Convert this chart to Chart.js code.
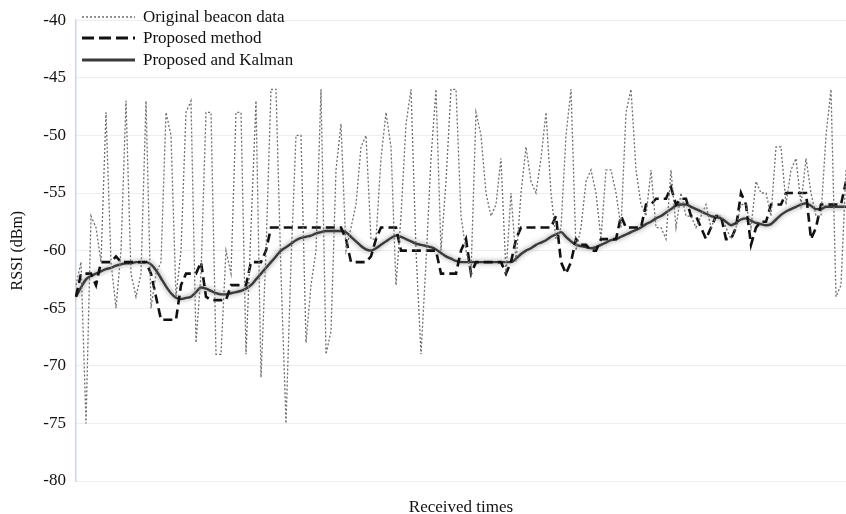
<!DOCTYPE html>
<html>
<head>
<meta charset="utf-8">
<script src="https://cdn.jsdelivr.net/npm/chart.js@4"></script>
<style>
  html, body { margin: 0; padding: 0; background: #fff; }
  #wrap { width: 846px; height: 514px; }
</style>
</head>
<body>
<div id="wrap"><canvas id="chart"></canvas></div>
<script>
// === DATA ===
const seriesNames = ['Original beacon data', 'Proposed method', 'Proposed and Kalman'];
const yTicks = [-80, -75, -70, -65, -60, -55, -50, -45, -40];

const original = [
  -63, -61, -75, -57, -58, -61, -48, -61, -65, -60,
  -47, -62, -64, -62, -47, -65, -62, -61, -48, -50,
  -64, -60, -48, -47, -68, -62, -48, -48, -69, -69,
  -60, -62, -48, -48, -69, -58, -47, -71, -60, -46,
  -46, -62, -75, -61, -50, -50, -68, -63, -60, -46,
  -69, -67, -53, -49, -60, -58, -56, -51, -50, -59,
  -59, -52, -48, -51, -63, -57, -49, -46, -60, -69,
  -61, -52, -46, -60, -54, -46, -46, -57, -60, -62,
  -48, -50, -55, -57, -56, -52, -62, -55, -61, -55,
  -51, -54, -55, -52, -48, -55, -59, -58, -50, -46,
  -60, -58, -54, -53, -55, -59, -53, -53, -55, -58,
  -48, -46, -53, -56, -57, -53, -58, -58, -59, -53,
  -58, -55, -57, -57, -58, -57, -56, -58, -57, -57,
  -58, -59, -58, -56, -56, -58, -54, -55, -55, -57,
  -51, -51, -56, -53, -52, -56, -52, -55, -57, -57,
  -50, -46, -64, -63, -53
];

const proposed = [
  -64, -62, -62, -62, -63, -61, -61, -61, -60.5, -61,
  -61, -61, -61, -61, -61, -62, -64, -66, -66, -66,
  -66, -63, -62, -62, -62, -61, -64, -64.3, -64.3, -64.3,
  -64.3, -63, -63, -63, -63, -61, -61, -61, -60, -58,
  -58, -58, -58, -58, -58, -58, -58, -58, -58, -58,
  -58, -58, -58, -58, -59, -61, -61, -61, -61, -60.5,
  -59, -58, -58, -58, -58, -60, -60, -60, -60, -60,
  -60, -60, -60, -62, -62, -62, -62, -60, -59, -62,
  -61, -61, -61, -61, -61, -61, -62, -61, -59, -58,
  -58, -58, -58, -58, -58, -58, -57, -61, -62, -61,
  -59, -59.5, -59.5, -60, -60, -59, -59, -59, -59, -57,
  -58, -58, -58, -58, -56, -56, -55.5, -55.5, -55.5, -54.5,
  -56, -55.5, -55.5, -57, -57, -58, -59, -58, -57, -57,
  -59, -59, -58, -55, -56, -59.5, -58, -57.5, -57.5, -56,
  -56, -56, -55, -55, -55, -55, -55, -59, -58, -56,
  -56, -56, -56, -56, -54
];

const kalman = [
  -64, -63.2, -62.5, -62.2, -62, -61.8, -61.6, -61.5, -61.3, -61.2,
  -61.1, -61.1, -61, -61, -61, -61.2, -61.7, -62.4, -63.1, -63.7,
  -64.1, -64.2, -64.1, -64, -63.6, -63.2, -63.3, -63.5, -63.7, -63.8,
  -63.8, -63.7, -63.6, -63.5, -63.3, -63, -62.5, -62, -61.5, -61,
  -60.5, -60, -59.7, -59.4, -59.1, -58.9, -58.8, -58.7, -58.5, -58.4,
  -58.3, -58.3, -58.3, -58.3, -58.4, -58.8, -59.2, -59.6, -59.9, -60,
  -59.8, -59.5, -59.2, -58.9, -58.7, -58.8, -59, -59.2, -59.4, -59.5,
  -59.6, -59.7, -59.9, -60.2, -60.5, -60.7, -60.9, -61, -61, -61,
  -61, -61, -61, -61, -61, -61, -61, -61, -60.7, -60.3,
  -60, -59.8, -59.5, -59.3, -59.1, -58.8, -58.6, -58.4, -58.8, -59.2,
  -59.5, -59.6, -59.7, -59.8, -59.7, -59.5, -59.3, -59.1, -59, -58.8,
  -58.6, -58.4, -58.2, -58, -57.7, -57.5, -57.2, -57, -56.7, -56.4,
  -56.1, -56, -56, -56.2, -56.4, -56.6, -56.8, -57, -57.1, -57.2,
  -57.5, -57.8, -57.6, -57.3, -57.2, -57.4, -57.6, -57.7, -57.8, -57.7,
  -57.3, -56.9, -56.6, -56.4, -56.2, -56, -55.9, -56.1, -56.4, -56.4,
  -56.2, -56.2, -56.2, -56.2, -56.2
];

const labels = original.map((_, i) => i + 1);

// === PLUGINS ===
// soft grey halo under the Kalman line
const haloPlugin = {
  id: 'halo',
  beforeDatasetDraw(chart, args) {
    if (args.index !== 2) return;
    const ctx = chart.ctx;
    ctx.save();
    ctx.shadowColor = 'rgba(90,90,90,0.75)';
    ctx.shadowBlur = 5;
  },
  afterDatasetDraw(chart, args) {
    if (args.index !== 2) return;
    chart.ctx.restore();
  }
};

// legend drawn inside the plot, top-left
const innerLegend = {
  id: 'innerLegend',
  afterDraw(chart) {
    const ctx = chart.ctx;
    const x0 = 82, x1 = 135, rows = [17, 38, 60];
    chart.data.datasets.forEach((ds, i) => {
      const y = rows[i];
      ctx.save();
      ctx.strokeStyle = ds.borderColor;
      ctx.lineWidth = i === 0 ? 1.5 : ds.borderWidth + 0.5;
      ctx.setLineDash(i === 1 ? [12, 5] : (ds.borderDash || []));
      ctx.beginPath();
      ctx.moveTo(x0, y);
      ctx.lineTo(x1, y);
      ctx.stroke();
      ctx.restore();
      ctx.fillStyle = '#111';
      ctx.font = '17px "Liberation Serif", serif';
      ctx.textBaseline = 'middle';
      ctx.fillText(ds.label, 143, y + 1);
    });
  }
};

// === CHART ===
Chart.defaults.font.family = '"Liberation Serif", "Times New Roman", serif';
Chart.defaults.color = '#111';

new Chart(document.getElementById('chart'), {
  type: 'line',
  data: {
    labels: labels,
    datasets: [
      { label: seriesNames[0], data: original, borderColor: '#6e6e6e', borderWidth: 1.3,
        borderDash: [2, 2], pointRadius: 0, tension: 0 },
      { label: seriesNames[1], data: proposed, borderColor: '#111', borderWidth: 2.6,
        borderDash: [9, 5], pointRadius: 0, tension: 0 },
      { label: seriesNames[2], data: kalman, borderColor: '#3a3a3a', borderWidth: 2.4,
        pointRadius: 0, cubicInterpolationMode: 'monotone' }
    ]
  },
  options: {
    responsive: true, maintainAspectRatio: false, animation: false,
    layout: { padding: { top: 20, right: 0, bottom: 0, left: 0 } },
    plugins: { legend: { display: false }, tooltip: { enabled: false } },
    scales: {
      x: {
        type: 'category', offset: false,
        grid: { display: false },
        border: { display: false },
        ticks: { display: false },
        title: { display: true, text: 'Received times', font: { size: 17 }, padding: { top: 0, bottom: -4 } },
        afterFit: s => { s.height = 33; }
      },
      y: {
        min: -80, max: -40,
        afterBuildTicks: s => { s.ticks = yTicks.map(v => ({ value: v })); },
        grid: { color: '#eeeeee', drawTicks: false },
        border: { display: true, color: '#c9d6e3', width: 1.5 },
        ticks: { padding: 10, font: { size: 17 } },
        title: { display: true, text: 'RSSI (dBm)', font: { size: 16 }, padding: { top: 8, bottom: 0 } },
        afterFit: s => { s.width = 76; }
      }
    }
  },
  plugins: [haloPlugin, innerLegend]
});
</script>
</body>
</html>
